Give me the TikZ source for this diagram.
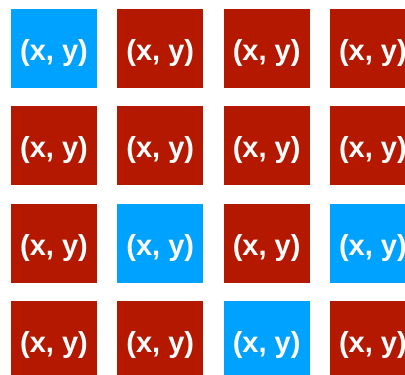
\documentclass[tikz,border=0pt]{standalone}
\usepackage{fontspec}
\setmainfont{Liberation Sans}
\usepackage{xcolor}
\definecolor{cellblue}{HTML}{00A2FF}
\definecolor{cellred}{HTML}{B41900}
\tikzstyle{cell} = [rectangle, minimum width=86pt, minimum height=79pt, inner sep=0pt,
    text height=30pt, text depth=6pt, text centered, text=white,
    font=\fontsize{29}{34}\selectfont\bfseries]
\begin{document}
\begin{tikzpicture}[x=1pt, y=1pt]
\useasboundingbox (0,0) rectangle (405,375);
\clip (0,0) rectangle (405,375);
\foreach \fillc [count=\n from 0] in {cellblue, cellred, cellred, cellred,
    cellred, cellred, cellred, cellred,
    cellred, cellblue, cellred, cellblue,
    cellred, cellred, cellblue, cellred}{
  \pgfmathtruncatemacro{\col}{mod(\n,4)}
  \pgfmathtruncatemacro{\row}{div(\n,4)}
  \node (c\row\col) [cell, fill=\fillc] at ({54+106.3*\col}, {326.5-97.3*\row}) {(x, y)};
}
\end{tikzpicture}
\end{document}
